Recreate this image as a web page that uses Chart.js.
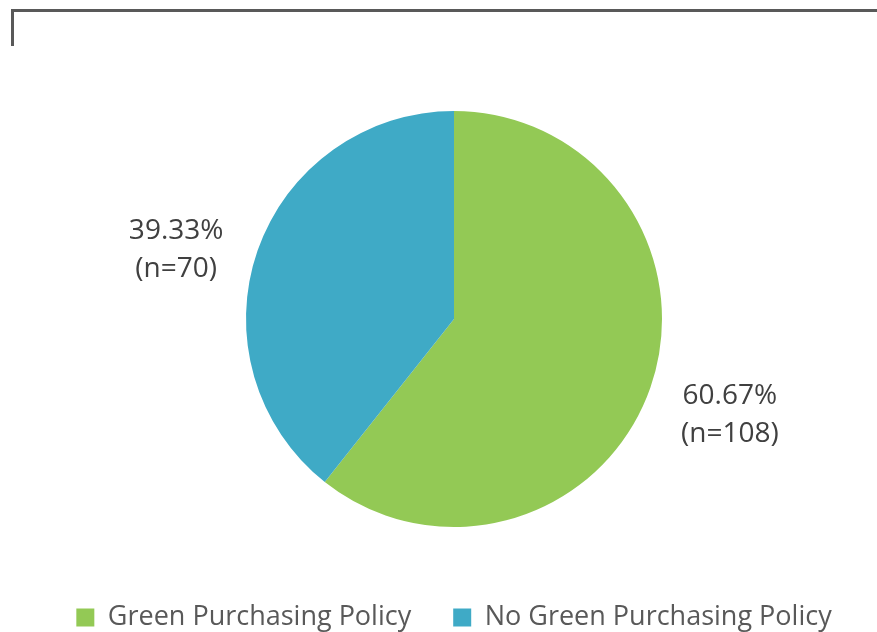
<!DOCTYPE html>
<html>
<head>
<meta charset="utf-8">
<script src="https://cdn.jsdelivr.net/npm/chart.js@4"></script>
<style>
  html, body { margin: 0; padding: 0; background: #fff; }
  #wrap { width: 877px; height: 632px; }
</style>
</head>
<body>
<div id="wrap"><canvas id="chartData" width="877" height="632"></canvas></div>
<script>
// chart data
var categories = ["Green Purchasing Policy", "No Green Purchasing Policy"];
var percents = [60.67, 39.33];
var counts = [108, 70];
var colors = ["#93C955", "#3FAAC6"];

// frame line in the top-left corner
var framePlugin = {
  id: 'frame',
  beforeDraw: function(chart) {
    var c = chart.ctx;
    c.save();
    c.strokeStyle = '#595959';
    c.lineWidth = 3;
    c.beginPath();
    c.moveTo(12.5, 46);
    c.lineTo(12.5, 10.5);
    c.lineTo(877, 10.5);
    c.stroke();
    c.restore();
  }
};

// percentage / n labels outside the slices (excel "best fit" nudges the small one down)
var labelPlugin = {
  id: 'sliceLabels',
  afterDatasetsDraw: function(chart) {
    var c = chart.ctx;
    var meta = chart.getDatasetMeta(0);
    var nudgeY = [1, 26];
    var nudgeX = [2, -4];
    c.save();
    c.font = '28px "Open Sans"';
    c.fillStyle = '#404040';
    c.textAlign = 'center';
    c.textBaseline = 'middle';
    meta.data.forEach(function(arc, i) {
      var mid = (arc.startAngle + arc.endAngle) / 2;
      var r = arc.outerRadius + 82;
      var x = arc.x + Math.cos(mid) * r + nudgeX[i];
      var y = arc.y + Math.sin(mid) * r + nudgeY[i];
      c.fillText(percents[i].toFixed(2) + '%', x, y - 19);
      c.fillText('(n=' + counts[i] + ')', x, y + 19);
    });
    c.restore();
  }
};

var ctx = document.getElementById("chartData").getContext("2d");
var myPie = new Chart(ctx, {
  type: 'pie',
  data: {
    labels: categories,
    datasets: [{
      data: percents,
      backgroundColor: colors,
      borderWidth: 0,
      radius: 208
    }]
  },
  options: {
    responsive: false,
    animation: false,
    layout: { padding: { top: 76, left: 31, right: 0, bottom: -9 } },
    plugins: {
      tooltip: { enabled: false },
      legend: {
        display: true,
        position: 'bottom',
        labels: {
          boxWidth: 18,
          boxHeight: 18,
          padding: 42,
          color: '#595959',
          font: { family: '"Open Sans"', size: 27 }
        }
      }
    }
  },
  plugins: [framePlugin, labelPlugin]
});
</script>
</body>
</html>
